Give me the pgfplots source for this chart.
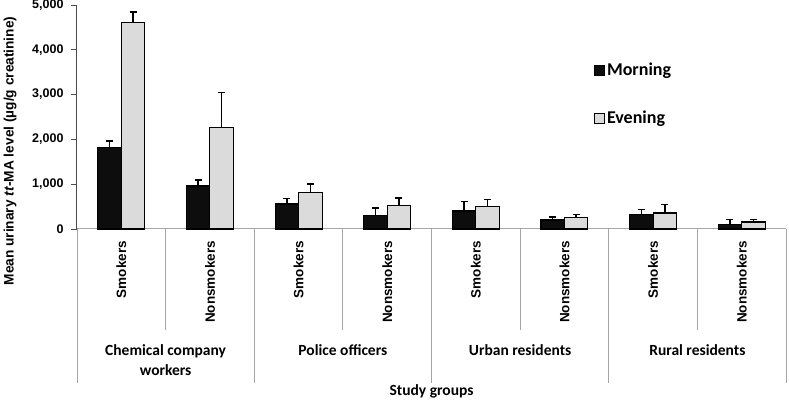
\documentclass[border=0pt]{standalone}
\usepackage{pgfplots}
\usepackage{pgfplotstable}
\pgfplotsset{compat=1.18}
\usepackage{fontspec}
\setmainfont{Liberation Sans}
\newfontfamily\calib{Carlito}
\pgfplotstableread{
x m mu e eu
0 1815 1970 4605 4837
1 960 1094 2261 3043
2 558 685 810 1004
3 297 469 521 692
4 402 618 498 662
5 201 268 253 320
6 327 439 357 543
7 97 216 156 216
}\datatable
\begin{document}
\begin{tikzpicture}[x=1pt,y=1pt]
\useasboundingbox (0,0) rectangle (789,401);
\begin{axis}[
  at={(77pt,172pt)}, anchor=south west,
  scale only axis, width=709pt, height=224pt,
  xmin=-0.5, xmax=7.5, ymin=0, ymax=5000,
  axis lines*=left,
  x axis line style={draw=gray!70, line width=1pt},
  y axis line style={draw=black!70, line width=1pt},
  xtick=\empty,
  ytick={0,1000,2000,3000,4000,5000},
  yticklabel style={font=\bfseries\fontsize{12.5}{14}\selectfont, xshift=-4pt},
  /pgf/number format/assume math mode=true,
  /pgf/number format/1000 sep={,},
  scaled y ticks=false,
  tick align=outside,
  ytick style={draw=black!70, line width=0.8pt},
  major tick length=6pt,
  clip=false,
  legend style={at={(0.725,0.76)}, anchor=north west, draw=none, fill=none,
    row sep=30pt, font=\calib\bfseries\fontsize{18}{20}\selectfont},
  legend cell align=left,
  legend image code/.code={\draw[#1, line width=0.8pt] (0pt,-5pt) rectangle (10pt,5pt);},
]
\addplot[ybar, bar width=0.265, bar shift=0, fill=black!95, draw=black, line width=1.1pt,
  error bars/.cd, y dir=plus, y explicit,
  error bar style={line width=1.6pt, black},
  error mark options={rotate=90, mark size=3.5pt, line width=1.6pt, black}]
  table[x expr=\thisrow{x}-0.1325, y=m, y error expr=\thisrow{mu}-\thisrow{m}] {\datatable};
\addlegendentry{Morning}
\addplot[ybar, bar width=0.265, bar shift=0, fill=black!14, draw=black, line width=1.1pt,
  error bars/.cd, y dir=plus, y explicit,
  error bar style={line width=1.6pt, black},
  error mark options={rotate=90, mark size=3.5pt, line width=1.6pt, black}]
  table[x expr=\thisrow{x}+0.1325, y=e, y error expr=\thisrow{eu}-\thisrow{e}] {\datatable};
\addlegendentry{Evening}
\pgfplotsinvokeforeach{0.5,2.5,4.5,6.5}{
  \draw[gray!70, line width=0.8pt] (axis cs:#1,0) -- ++(0pt,-101pt);
}
\pgfplotsinvokeforeach{-0.5,1.5,3.5,5.5,7.5}{
  \draw[gray!70, line width=0.8pt] (axis cs:#1,0) -- ++(0pt,-154pt);
}
\pgfplotsinvokeforeach{0,2,4,6}{
  \path (axis cs:#1,0) ++(0pt,-12pt) node[rotate=90, anchor=east, inner sep=0pt, font=\bfseries\fontsize{13.5}{15}\selectfont] {Smokers};
}
\pgfplotsinvokeforeach{1,3,5,7}{
  \path (axis cs:#1,0) ++(0pt,-12pt) node[rotate=90, anchor=east, inner sep=0pt, font=\bfseries\fontsize{13.5}{15}\selectfont] {Nonsmokers};
}
\node[font=\calib\bfseries\fontsize{15.5}{20}\selectfont, align=center, anchor=north, yshift=-112pt] at (axis cs:0.5,0) {Chemical company\\workers};
\node[font=\calib\bfseries\fontsize{15.5}{20}\selectfont, anchor=north, yshift=-112pt] at (axis cs:2.5,0) {Police officers};
\node[font=\calib\bfseries\fontsize{15.5}{20}\selectfont, anchor=north, yshift=-112pt] at (axis cs:4.5,0) {Urban residents};
\node[font=\calib\bfseries\fontsize{15.5}{20}\selectfont, anchor=north, yshift=-112pt] at (axis cs:6.5,0) {Rural residents};
\end{axis}
\node[font=\calib\bfseries\fontsize{15.5}{18}\selectfont] at (431.5,10) {Study groups};
\node[font=\bfseries\fontsize{13.7}{15}\selectfont, rotate=90] at (10,250) {Mean urinary \textit{tt}-MA level (µg/g creatinine)};
\end{tikzpicture}
\end{document}
